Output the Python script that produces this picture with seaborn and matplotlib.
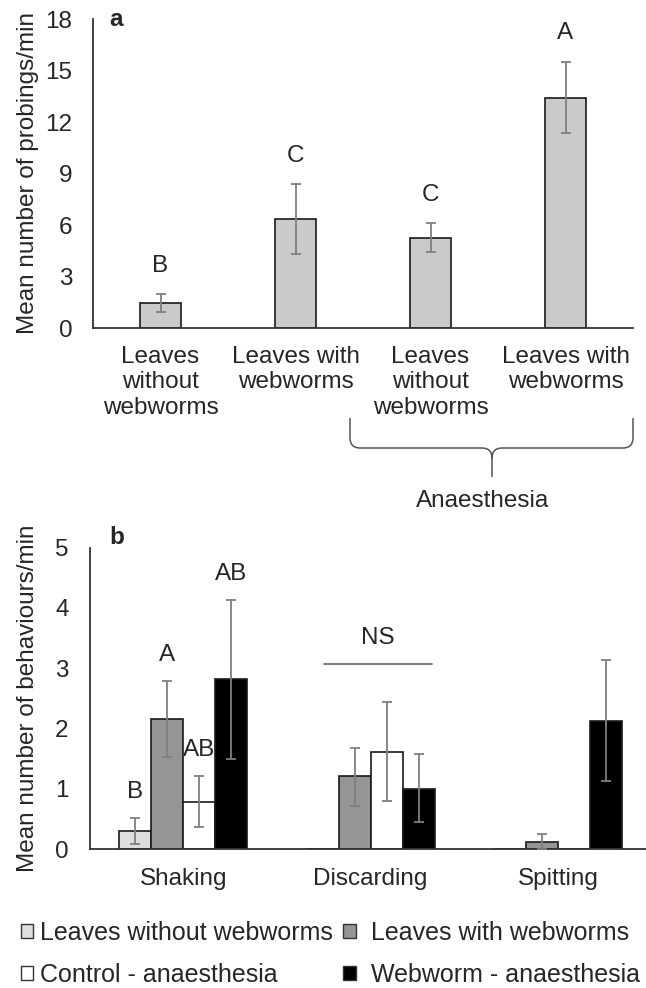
import numpy as np
import pandas as pd
import matplotlib
matplotlib.use("Agg")
import matplotlib.pyplot as plt
import seaborn as sns
from matplotlib.path import Path
from matplotlib.patches import PathPatch, Patch

# ---------------- data ----------------
# panel a
treatments = ["ctrl_leaves", "web_leaves", "ctrl_anaes", "web_anaes"]
treatment_labels = ["Leaves\nwithout\nwebworms", "Leaves with\nwebworms",
                    "Leaves\nwithout\nwebworms", "Leaves with\nwebworms"]
probings_mean = [1.47, 6.33, 5.27, 13.42]
probings_low = [0.93, 4.33, 4.45, 11.35]
probings_high = [1.99, 8.39, 6.11, 15.51]
probings_letters = ["B", "C", "C", "A"]

# panel b
behaviours = ["Shaking", "Discarding", "Spitting"]
groups = ["Leaves without webworms", "Leaves with webworms",
          "Control - anaesthesia", "Webworm - anaesthesia"]
shaking_mean = [0.30, 2.15, 0.78, 2.82]
shaking_low = [0.09, 1.52, 0.36, 1.49]
shaking_high = [0.52, 2.78, 1.21, 4.13]
discarding_mean = [0.0, 1.21, 1.61, 1.00]
discarding_low = [np.nan, 0.72, 0.79, 0.44]
discarding_high = [np.nan, 1.68, 2.43, 1.57]
spitting_mean = [0.0, 0.12, 0.0, 2.13]
spitting_low = [np.nan, 0.0, np.nan, 1.12]
spitting_high = [np.nan, 0.25, np.nan, 3.13]
shaking_letters = ["B", "A", "AB", "AB"]

group_colors = ["#DCDDDE", "#959595", "#FFFFFF", "#000000"]
bar_a_color = "#C9CACB"

# ---------------- style ----------------
sns.set_style("white")
plt.rcParams["font.family"] = ["Liberation Sans", "DejaVu Sans"]
FS = 17.5
LFS = 18
EDGE = "#1a1a1a"
SPINE = "#333333"
ERRC = "#7f7f7f"

W, H = 646, 988
fig = plt.figure(figsize=(W / 100, H / 100), dpi=100)

def fx(px):
    return px / W

def fy(py):
    return 1 - py / H

# ---------------- panel a ----------------
ax_a = fig.add_axes([fx(93), fy(328), fx(633) - fx(93), fy(19) - fy(328)])
df_a = pd.DataFrame({"treatment": treatments, "mean": probings_mean})
sns.barplot(data=df_a, x="treatment", y="mean", order=treatments,
            color=bar_a_color, width=0.31, edgecolor=EDGE, linewidth=1.2,
            errorbar=None, ax=ax_a, saturation=1)
xs = [p.get_x() + p.get_width() / 2 for p in ax_a.patches]
m = np.array(probings_mean)
yerr = [m - np.array(probings_low), np.array(probings_high) - m]
ax_a.errorbar(xs, m, yerr=yerr, fmt="none", ecolor=ERRC, elinewidth=1.3,
              capsize=3.5, capthick=1.3, zorder=5)
for x, hi, lt in zip(xs, probings_high, probings_letters):
    ax_a.text(x, hi + 1.65, lt, ha="center", va="center", fontsize=FS)

ax_a.set_xlim(-0.5, 3.5)
ax_a.set_ylim(0, 18)
ax_a.set_yticks(np.arange(0, 19, 3))
ax_a.set_xticks(range(len(treatments)))
ax_a.set_xticklabels(treatment_labels, fontsize=FS)
ax_a.tick_params(axis="both", length=0, labelsize=FS)
ax_a.tick_params(axis="x", pad=13)
ax_a.tick_params(axis="y", pad=15)
ax_a.set_xlabel("")
ax_a.set_ylabel("Mean number of probings/min", fontsize=FS)
for s in ["top", "right"]:
    ax_a.spines[s].set_visible(False)
for s in ["left", "bottom"]:
    ax_a.spines[s].set_color(SPINE)
    ax_a.spines[s].set_linewidth(1.3)
fig.text(fx(109), fy(19), "a", fontsize=FS, fontweight="bold", va="center", ha="left")

# brace under anaesthesia treatments
def P(px, py):
    return (fx(px), fy(py))

verts = [P(350, 418), P(350, 438), P(350, 448), P(360, 448), P(482, 448),
         P(492, 448), P(492, 458), P(492, 477),
         P(633, 418), P(633, 438), P(633, 448), P(623, 448), P(502, 448),
         P(492, 448), P(492, 458)]
codes = [Path.MOVETO, Path.LINETO, Path.CURVE3, Path.CURVE3, Path.LINETO,
         Path.CURVE3, Path.CURVE3, Path.LINETO,
         Path.MOVETO, Path.LINETO, Path.CURVE3, Path.CURVE3, Path.LINETO,
         Path.CURVE3, Path.CURVE3]
fig.add_artist(PathPatch(Path(verts, codes), facecolor="none", edgecolor="#555555",
                         lw=1.1, transform=fig.transFigure))
fig.text(fx(483), fy(501), "Anaesthesia", fontsize=FS, ha="center", va="center")

# ---------------- panel b ----------------
ax_b = fig.add_axes([fx(89.5), fy(849), 1 - fx(89.5), fy(547.5) - fy(849)])
rows = []
means = {"Shaking": shaking_mean, "Discarding": discarding_mean, "Spitting": spitting_mean}
lows = {"Shaking": shaking_low, "Discarding": discarding_low, "Spitting": spitting_low}
highs = {"Shaking": shaking_high, "Discarding": discarding_high, "Spitting": spitting_high}
for b in behaviours:
    for g, mv, lv, hv in zip(groups, means[b], lows[b], highs[b]):
        rows.append({"behaviour": b, "group": g, "mean": mv, "low": lv, "high": hv})
df_b = pd.DataFrame(rows)
GW = 0.684
sns.barplot(data=df_b, x="behaviour", y="mean", hue="group", order=behaviours,
            hue_order=groups, palette=dict(zip(groups, group_colors)), width=GW,
            edgecolor=EDGE, linewidth=1.2, errorbar=None, ax=ax_b, legend=False,
            saturation=1)
n = len(groups)
bw = GW / n
for p in ax_b.patches:
    cx = p.get_x() + p.get_width() / 2
    ci = int(round(cx))
    hi_ = int(round((cx - ci + GW / 2) / bw - 0.5))
    row = df_b[(df_b.behaviour == behaviours[ci]) & (df_b.group == groups[hi_])].iloc[0]
    if not np.isnan(row["low"]):
        ax_b.errorbar([cx], [row["mean"]], yerr=[[row["mean"] - row["low"]], [row["high"] - row["mean"]]],
                      fmt="none", ecolor=ERRC, elinewidth=1.3, capsize=3.5, capthick=1.3, zorder=5)
    if ci == 0:
        ax_b.text(cx, row["high"] + 0.43, shaking_letters[hi_], ha="center", va="center", fontsize=FS, zorder=6)

ax_b.plot([0.75, 1.33], [3.07, 3.07], color="#666666", lw=1.2)
ax_b.text(1.04, 3.50, "NS", ha="center", va="center", fontsize=FS)

ax_b.set_xlim(-0.5, 2.47)
ax_b.set_ylim(0, 5)
ax_b.set_yticks(range(0, 6))
ax_b.tick_params(axis="both", length=0, labelsize=FS)
ax_b.tick_params(axis="x", pad=14)
ax_b.tick_params(axis="y", pad=15)
ax_b.set_xlabel("")
ax_b.set_ylabel("Mean number of behaviours/min", fontsize=FS)
for s in ["top", "right"]:
    ax_b.spines[s].set_visible(False)
for s in ["left", "bottom"]:
    ax_b.spines[s].set_color(SPINE)
    ax_b.spines[s].set_linewidth(1.3)
fig.text(fx(109), fy(538), "b", fontsize=FS, fontweight="bold", va="center", ha="left")

ax_a.yaxis.set_label_coords(fx(39), fy(173), transform=fig.transFigure)
ax_b.yaxis.set_label_coords(fx(39), fy(698), transform=fig.transFigure)

# legend: two columns as two legends
def make_handles(idx):
    return [Patch(facecolor=group_colors[i], edgecolor="#333333", linewidth=1.0) for i in idx]

col1 = [0, 2]
col2 = [1, 3]
fig.legend(make_handles(col1), [groups[i] for i in col1], loc="upper left",
           bbox_to_anchor=(fx(21), fy(921)), frameon=False, fontsize=LFS,
           handlelength=0.48, handleheight=0.48, handletextpad=0.28,
           labelspacing=0.72, borderpad=0, borderaxespad=0)
fig.legend(make_handles(col2), [groups[i] for i in col2], loc="upper left",
           bbox_to_anchor=(fx(343), fy(921)), frameon=False, fontsize=LFS,
           handlelength=0.52, handleheight=0.52, handletextpad=0.6,
           labelspacing=0.72, borderpad=0, borderaxespad=0)

fig.savefig("out.png", dpi=100)
